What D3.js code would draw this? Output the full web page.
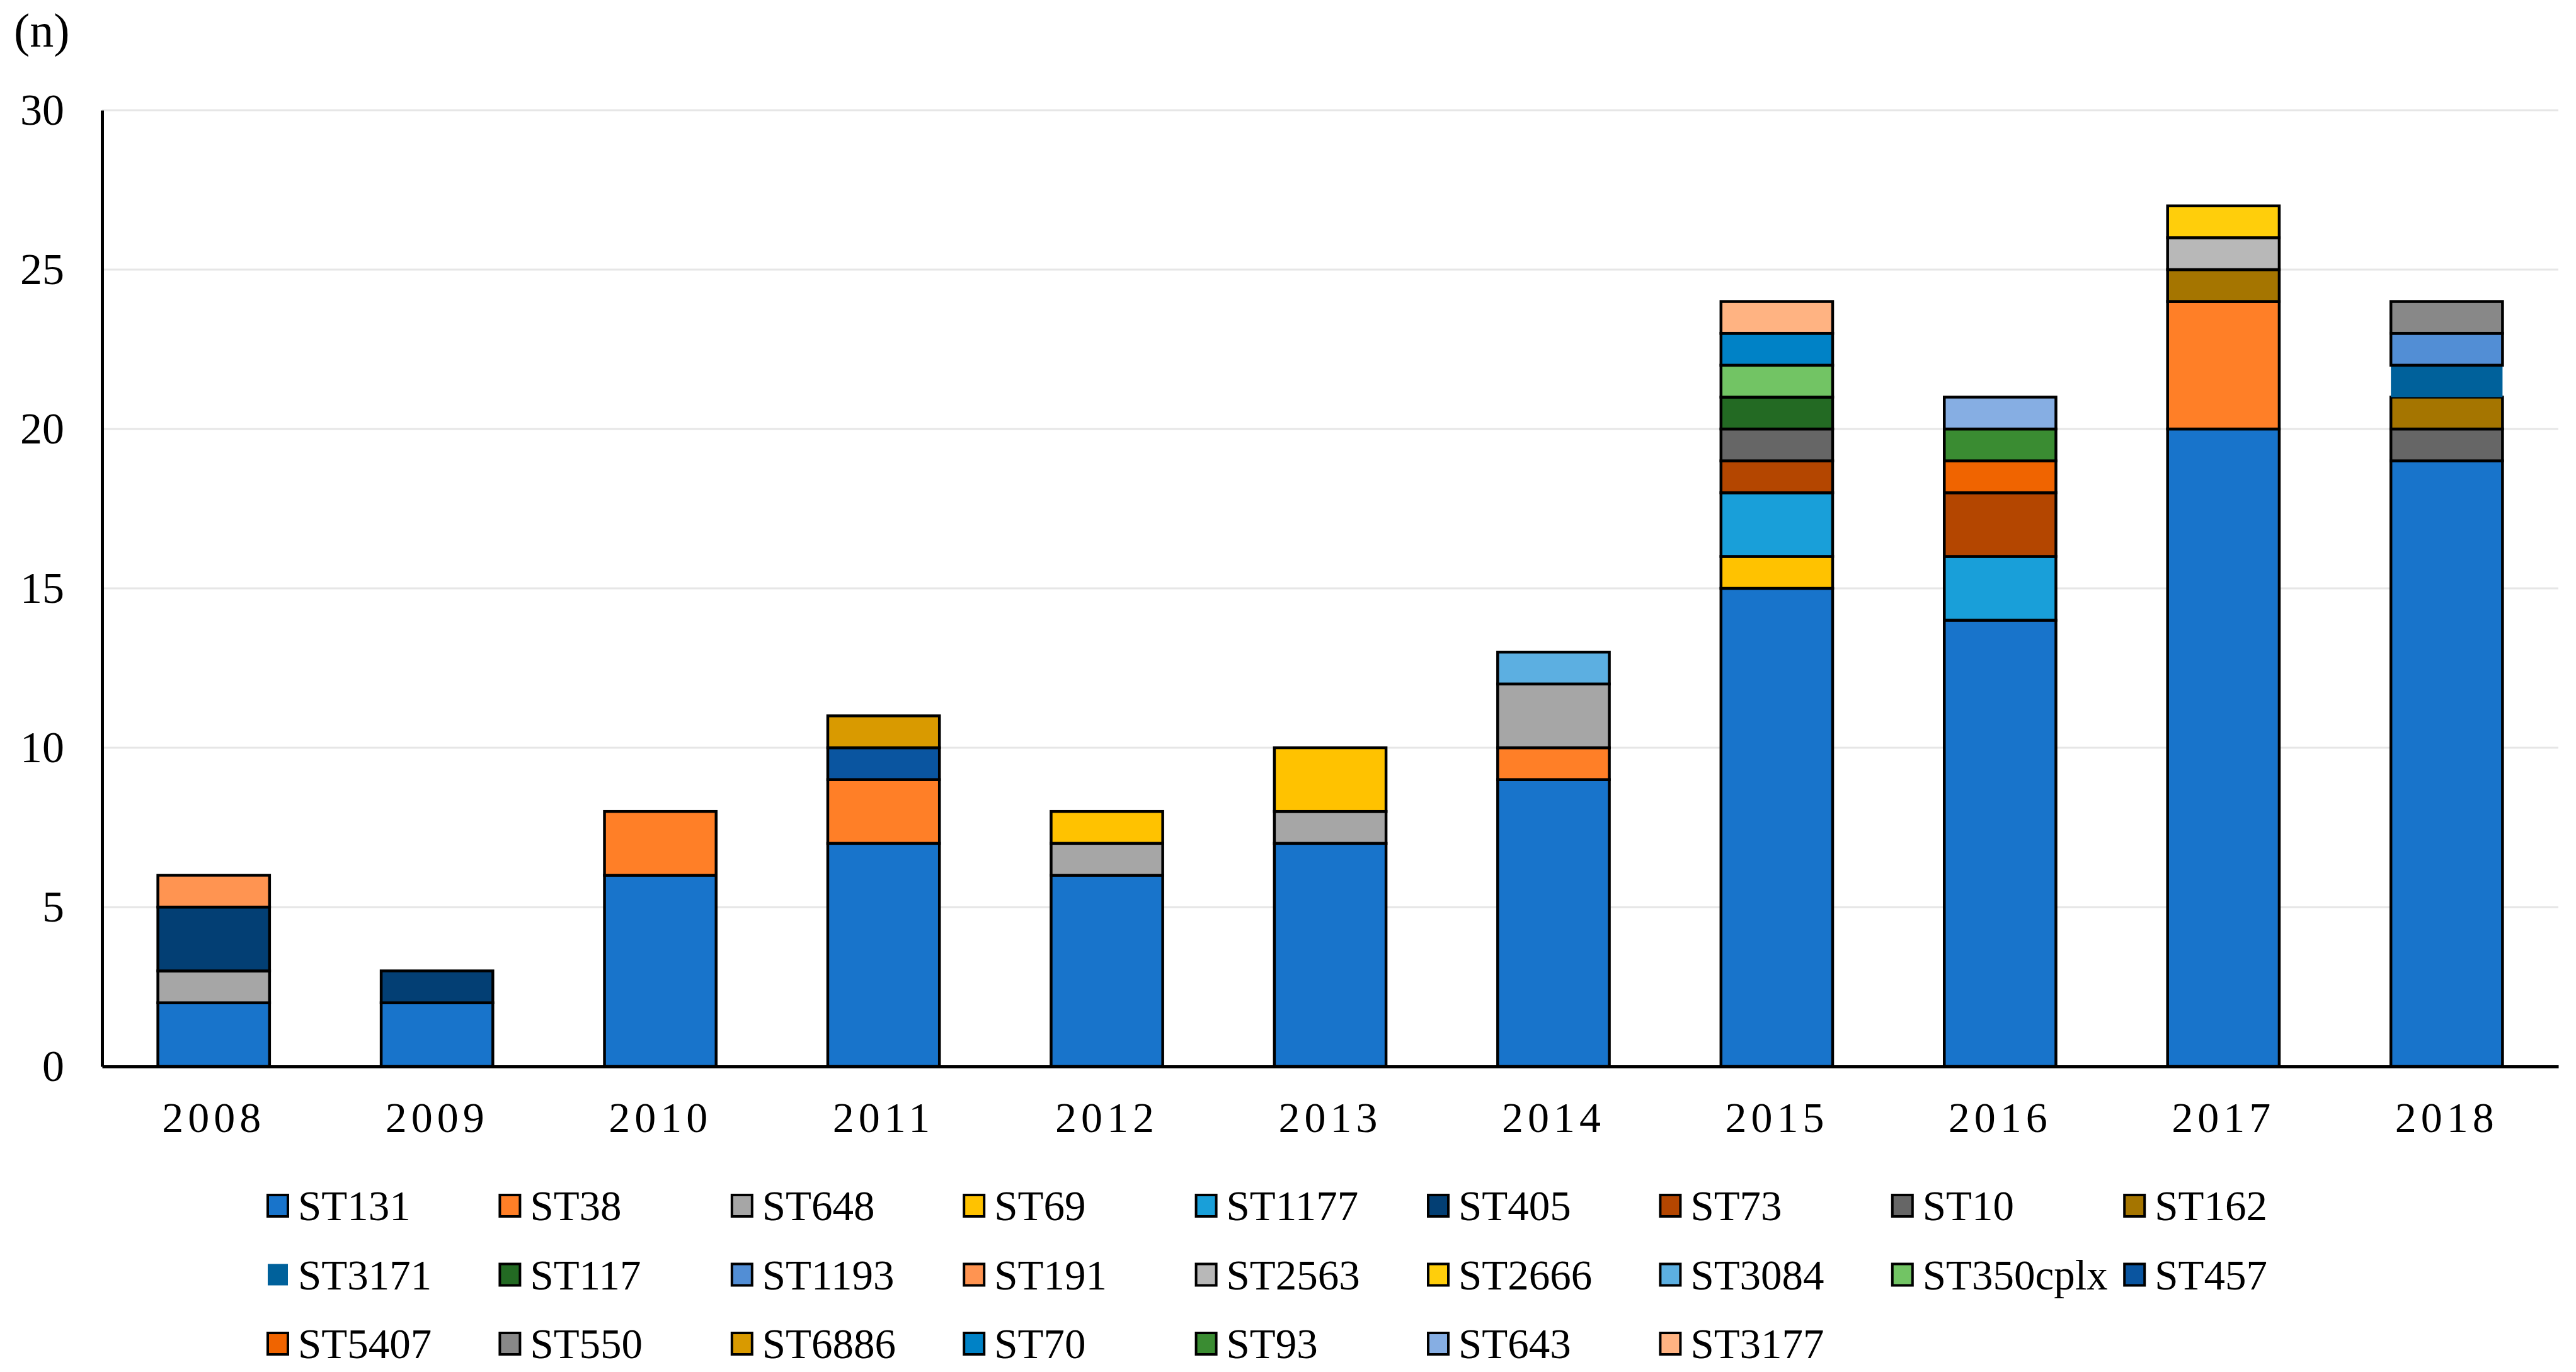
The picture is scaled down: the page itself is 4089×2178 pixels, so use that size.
<!DOCTYPE html>
<html>
<head>
<meta charset="utf-8">
<script src="https://cdn.jsdelivr.net/npm/d3@7"></script>
<style>
  body { margin: 0; background: #fff; }
  svg { display: block; font-family: "Liberation Serif", "Times New Roman", serif; }
</style>
</head>
<body>
<svg id="chart" width="4089" height="2178"></svg>
<script>
// Years on the x axis
const years = ['2008', '2009', '2010', '2011', '2012', '2013', '2014', '2015', '2016', '2017', '2018'];

// Sequence types, in legend (and stacking) order
const seqTypes = [
  'ST131', 'ST38', 'ST648', 'ST69', 'ST1177', 'ST405', 'ST73', 'ST10', 'ST162',
  'ST3171', 'ST117', 'ST1193', 'ST191', 'ST2563', 'ST2666', 'ST3084', 'ST350cplx', 'ST457',
  'ST5407', 'ST550', 'ST6886', 'ST70', 'ST93', 'ST643', 'ST3177'
];

const seqColors = [
  '#1874cb', '#ff7f27', '#a6a6a6', '#ffc200', '#199fd9', '#033f74', '#b44600', '#666666', '#a57500',
  '#00619b', '#236a23', '#528ed5', '#ff9451', '#b8b8b8', '#ffce0b', '#5cafe1', '#72c464', '#0a55a0',
  '#f06400', '#888888', '#d99a00', '#0082c6', '#3a8c32', '#86aee3', '#ffb382'
];

// Isolates per year for each sequence type (non-zero only)
const counts = {
  '2008': { ST131: 2, ST648: 1, ST405: 2, ST191: 1 },
  '2009': { ST131: 2, ST405: 1 },
  '2010': { ST131: 6, ST38: 2 },
  '2011': { ST131: 7, ST38: 2, ST457: 1, ST6886: 1 },
  '2012': { ST131: 6, ST648: 1, ST69: 1 },
  '2013': { ST131: 7, ST648: 1, ST69: 2 },
  '2014': { ST131: 9, ST38: 1, ST648: 2, ST3084: 1 },
  '2015': { ST131: 15, ST69: 1, ST1177: 2, ST73: 1, ST10: 1, ST117: 1, ST350cplx: 1, ST70: 1, ST3177: 1 },
  '2016': { ST131: 14, ST1177: 2, ST73: 2, ST5407: 1, ST93: 1, ST643: 1 },
  '2017': { ST131: 20, ST38: 4, ST162: 1, ST2563: 1, ST2666: 1 },
  '2018': { ST131: 19, ST10: 1, ST162: 1, ST3171: 1, ST1193: 1, ST550: 1 }
};

const yTicks = [0, 5, 10, 15, 20, 25, 30];

// Build the table for d3.stack
const table = years.map((yr) => {
  const row = { year: yr };
  seqTypes.forEach((k) => { row[k] = counts[yr][k] || 0; });
  return row;
});

const svg = d3.select('#chart');
const plotLeft = 162, plotRight = 4061, plotTop = 175, plotBottom = 1693;

const x = d3.scaleBand().domain(years).range([plotLeft, plotRight]).paddingInner(0.5).paddingOuter(0.25);
const y = d3.scaleLinear().domain([0, 30]).range([plotBottom, plotTop]);
const color = d3.scaleOrdinal().domain(seqTypes).range(seqColors);

// Gridlines
svg.append('g')
  .selectAll('line')
  .data(yTicks.filter((d) => d > 0))
  .enter()
  .append('line')
  .attr('x1', plotLeft)
  .attr('x2', plotRight)
  .attr('y1', (d) => y(d))
  .attr('y2', (d) => y(d))
  .attr('stroke', '#e6e6e6')
  .attr('stroke-width', 3);

// Stacked bars
const series = d3.stack().keys(seqTypes)(table);
svg.append('g')
  .selectAll('g')
  .data(series)
  .enter()
  .append('g')
  .attr('fill', (d) => color(d.key))
  .attr('stroke', (d) => (d.key === 'ST3171' ? 'none' : '#000'))
  .attr('stroke-width', 4.5)
  .selectAll('rect')
  .data((d) => d.filter((p) => p[1] > p[0]))
  .enter()
  .append('rect')
  .attr('x', (d) => x(d.data.year))
  .attr('y', (d) => y(d[1]))
  .attr('width', x.bandwidth())
  .attr('height', (d) => y(d[0]) - y(d[1]));

// Y axis
const yAxis = svg.append('g')
  .attr('transform', `translate(${plotLeft},0)`)
  .call(d3.axisLeft(y).tickValues(yTicks).tickSize(0).tickPadding(60));
yAxis.select('.domain').attr('stroke', '#000').attr('stroke-width', 5);
yAxis.selectAll('text')
  .style('font-family', 'Liberation Serif, Times New Roman, serif')
  .style('font-size', '70px')
  .attr('fill', '#000');

// X axis
const xAxis = svg.append('g')
  .attr('transform', `translate(0,${plotBottom})`)
  .call(d3.axisBottom(x).tickSize(0).tickPadding(56));
xAxis.select('.domain').attr('stroke', '#000').attr('stroke-width', 5);
xAxis.selectAll('text')
  .style('font-family', 'Liberation Serif, Times New Roman, serif')
  .style('font-size', '68px')
  .style('letter-spacing', '7px')
  .attr('fill', '#000');

// Unit label
svg.append('text')
  .attr('x', 22)
  .attr('y', 74)
  .style('font-size', '76px')
  .text('(n)');

// Legend: 9 per row
const perRow = 9;
const legend = svg.append('g')
  .selectAll('g')
  .data(seqTypes)
  .enter()
  .append('g')
  .attr('transform', (d, i) => `translate(${425 + (i % perRow) * 368.4},${1914 + Math.floor(i / perRow) * 109.5})`);

legend.append('rect')
  .attr('x', 0)
  .attr('y', -17)
  .attr('width', 32)
  .attr('height', 34)
  .attr('fill', (d) => color(d))
  .attr('stroke', (d) => (d === 'ST3171' ? 'none' : '#000'))
  .attr('stroke-width', 4);

legend.append('text')
  .attr('x', 48)
  .attr('y', 0)
  .attr('dy', '0.35em')
  .style('font-size', '67px')
  .text((d) => d);
</script>
</body>
</html>
